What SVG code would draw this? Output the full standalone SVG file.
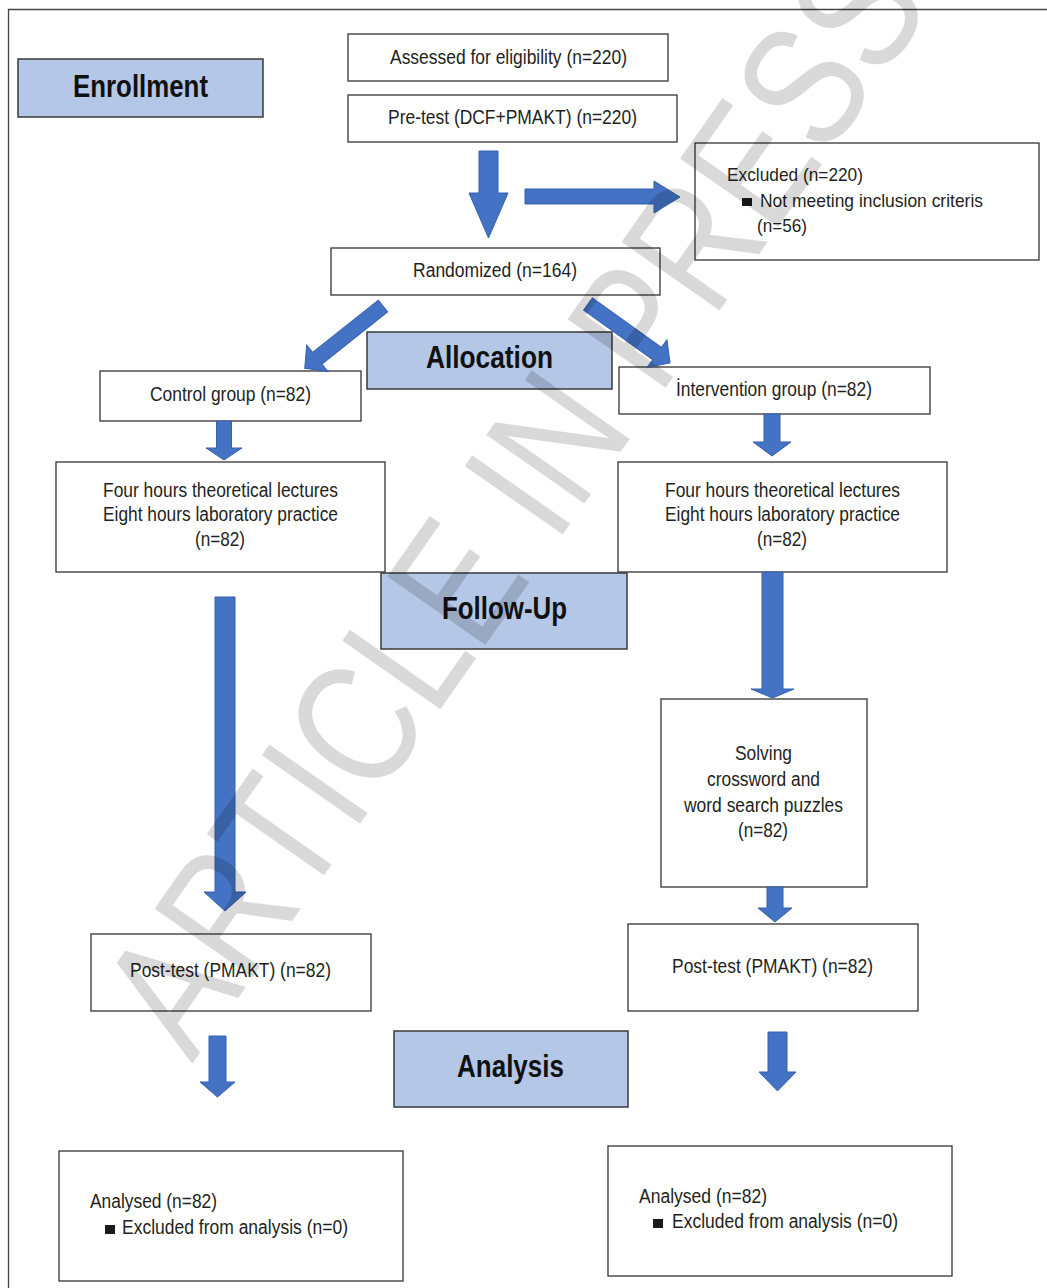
<svg xmlns="http://www.w3.org/2000/svg" width="1047" height="1288" viewBox="0 0 1047 1288">
<style>
.box{fill:#fff;stroke:#333;stroke-width:1.3}
.hdr{fill:#b4c7e7;stroke:#3a3a3a;stroke-width:1.5}
.t{font-family:"Liberation Sans",Arial,sans-serif;font-size:20px;fill:#231f20}
.ts{font-family:"Liberation Sans",Arial,sans-serif;font-size:19px;fill:#231f20}
.h{font-family:"Liberation Sans",Arial,sans-serif;font-size:31px;font-weight:bold;fill:#111}
.arr{fill:#4472c4;stroke:#3561ad;stroke-width:1}
.bul{fill:#1a1a1a}
.wm{font-family:"Liberation Sans",Arial,sans-serif;font-size:174px;fill:#000;fill-opacity:0.15}
</style>
<rect width="1047" height="1288" fill="#fff"/>
<path d="M8.5,1288 V9.5 H1047" fill="none" stroke="#444" stroke-width="1.3"/>

<g id="enrollment"><rect class="hdr" x="18" y="59" width="245" height="58"/><text class="h" x="73" y="97" textLength="135" lengthAdjust="spacingAndGlyphs">Enrollment</text></g>
<g id="assessed"><rect class="box" x="348" y="34" width="320" height="47"/><text class="t" x="390" y="64" textLength="237" lengthAdjust="spacingAndGlyphs">Assessed for eligibility (n=220)</text></g>
<g id="pretest"><rect class="box" x="348" y="95" width="329" height="47"/><text class="t" x="388" y="124" textLength="249" lengthAdjust="spacingAndGlyphs">Pre-test (DCF+PMAKT) (n=220)</text></g>
<g id="excluded"><rect class="box" x="695" y="143" width="344" height="117"/>
<text class="ts" x="727" y="181" textLength="136" lengthAdjust="spacingAndGlyphs">Excluded (n=220)</text>
<rect class="bul" x="742" y="198" width="10" height="8"/>
<text class="ts" x="760" y="207" textLength="223" lengthAdjust="spacingAndGlyphs">Not meeting inclusion criteris</text>
<text class="ts" x="757" y="232" textLength="50" lengthAdjust="spacingAndGlyphs">(n=56)</text></g>
<g id="randomized"><rect class="box" x="331" y="248" width="329" height="47"/><text class="t" x="413" y="277" textLength="164" lengthAdjust="spacingAndGlyphs">Randomized (n=164)</text></g>
<g id="allocation"><rect class="hdr" x="367" y="332" width="245" height="57"/><text class="h" x="426" y="368" textLength="127" lengthAdjust="spacingAndGlyphs">Allocation</text></g>
<g id="control"><rect class="box" x="100" y="371" width="261" height="50"/><text class="t" x="150" y="401" textLength="161" lengthAdjust="spacingAndGlyphs">Control group (n=82)</text></g>
<g id="intervention"><rect class="box" x="619" y="367" width="311" height="47"/><text class="t" x="676" y="396" textLength="196" lengthAdjust="spacingAndGlyphs">İntervention group (n=82)</text></g>
<g id="control-lectures"><rect class="box" x="56" y="462" width="329" height="110"/>
<text class="t" x="103" y="497" textLength="235" lengthAdjust="spacingAndGlyphs">Four hours theoretical lectures</text>
<text class="t" x="103" y="521" textLength="235" lengthAdjust="spacingAndGlyphs">Eight hours laboratory practice</text>
<text class="t" x="195" y="546" textLength="50" lengthAdjust="spacingAndGlyphs">(n=82)</text></g>
<g id="intervention-lectures"><rect class="box" x="618" y="462" width="329" height="110"/>
<text class="t" x="665" y="497" textLength="235" lengthAdjust="spacingAndGlyphs">Four hours theoretical lectures</text>
<text class="t" x="665" y="521" textLength="235" lengthAdjust="spacingAndGlyphs">Eight hours laboratory practice</text>
<text class="t" x="757" y="546" textLength="50" lengthAdjust="spacingAndGlyphs">(n=82)</text></g>
<g id="followup"><rect class="hdr" x="381" y="573" width="246" height="76"/><text class="h" x="442" y="619" textLength="125" lengthAdjust="spacingAndGlyphs">Follow-Up</text></g>
<g id="puzzles"><rect class="box" x="661" y="699" width="206" height="188"/>
<text class="t" x="735" y="760" textLength="57" lengthAdjust="spacingAndGlyphs">Solving</text>
<text class="t" x="707" y="786" textLength="113" lengthAdjust="spacingAndGlyphs">crossword and</text>
<text class="t" x="684" y="812" textLength="159" lengthAdjust="spacingAndGlyphs">word search puzzles</text>
<text class="t" x="738" y="837" textLength="50" lengthAdjust="spacingAndGlyphs">(n=82)</text></g>
<g id="posttest-control"><rect class="box" x="91" y="934" width="280" height="77"/><text class="t" x="130" y="977" textLength="201" lengthAdjust="spacingAndGlyphs">Post-test (PMAKT) (n=82)</text></g>
<g id="posttest-intervention"><rect class="box" x="628" y="924" width="290" height="87"/><text class="t" x="672" y="973" textLength="201" lengthAdjust="spacingAndGlyphs">Post-test (PMAKT) (n=82)</text></g>
<g id="analysis"><rect class="hdr" x="394" y="1031" width="234" height="76"/><text class="h" x="457" y="1077" textLength="107" lengthAdjust="spacingAndGlyphs">Analysis</text></g>
<g id="analysed-control"><rect class="box" x="59" y="1151" width="344" height="130"/>
<text class="t" x="90" y="1208" textLength="127" lengthAdjust="spacingAndGlyphs">Analysed (n=82)</text>
<rect class="bul" x="105" y="1225" width="10" height="9"/>
<text class="t" x="122" y="1234" textLength="226" lengthAdjust="spacingAndGlyphs">Excluded from analysis (n=0)</text></g>
<g id="analysed-intervention"><rect class="box" x="608" y="1146" width="344" height="130"/>
<text class="t" x="639" y="1203" textLength="128" lengthAdjust="spacingAndGlyphs">Analysed (n=82)</text>
<rect class="bul" x="653" y="1219" width="10" height="9"/>
<text class="t" x="672" y="1228" textLength="226" lengthAdjust="spacingAndGlyphs">Excluded from analysis (n=0)</text></g>

<g id="connectors">
<polygon class="arr" points="479,151 498,151 498,193 508,193 488.5,238 469,193 479,193"/>
<polygon class="arr" points="525,189 654,189 654,181 680,197 654,213 654,204 525,204"/>
<polygon class="arr" transform="translate(383,306) rotate(141.5)" points="0,-7.5 84,-7.5 84,-17 100,0 84,17 84,7.5 0,7.5"/>
<polygon class="arr" transform="translate(588,304) rotate(35.7)" points="0,-7.5 85,-7.5 85,-17 101,0 85,17 85,7.5 0,7.5"/>
<polygon class="arr" points="216.5,421 231.5,421 231.5,448 242,448 224,460 206,448 216.5,448"/>
<polygon class="arr" points="764,414 780,414 780,442 791,442 772,456 753,442 764,442"/>
<polygon class="arr" points="215,597 235,597 235,892 246,892 225,911 204,892 215,892"/>
<polygon class="arr" points="762,572 783,572 783,689 794,689 772.5,698 751,689 762,689"/>
<polygon class="arr" points="767,887 783,887 783,908 792,908 775,922 758,908 767,908"/>
<polygon class="arr" points="209,1036 226,1036 226,1082 235,1082 217.5,1097 200,1082 209,1082"/>
<polygon class="arr" points="768,1032 787,1032 787,1072 796,1072 777.5,1091 759,1072 768,1072"/>
</g>

<g id="watermark"><text class="wm" x="192" y="1064" transform="rotate(-55 192 1064)" textLength="1293" lengthAdjust="spacingAndGlyphs">ARTICLE IN PRESS</text></g>
</svg>
